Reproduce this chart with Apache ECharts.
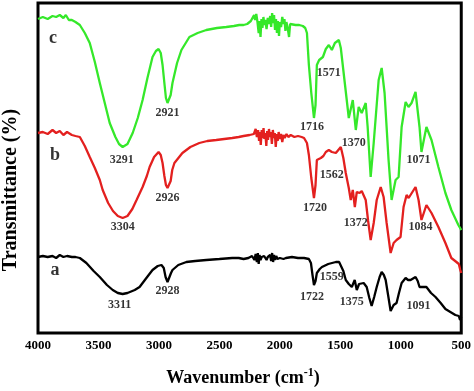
<!DOCTYPE html>
<html>
<head>
<meta charset="utf-8">
<script src="https://cdn.jsdelivr.net/npm/echarts@6/dist/echarts.min.js"></script>
<style>
html,body{margin:0;padding:0;background:#fff;}
#chart{width:474px;height:391px;}
</style>
</head>
<body>
<div id="chart"></div>
<script>
// x tick labels (wavenumber, cm-1)
var xTicks = [4000, 3500, 3000, 2500, 2000, 1500, 1000, 500];

// spectrum c (green): [wavenumber, transmittance (arb. offset units)]
var specC = [[4000,314],[3960,316],[3920,314],[3880,317],[3850,316],[3820,318],[3790,315],[3770,318],[3760,320],[3745,313],[3720,313],[3690,311],[3654,308],[3613,300],[3572,290],[3530,271],[3489,250],[3448,230],[3407,210],[3360,196],[3330,189],[3300,186],[3260,189],[3217,200],[3175,215],[3135,233],[3095,255],[3053,276],[3025,282],[3003,284],[2985,280],[2970,268],[2955,250],[2942,235],[2929,230],[2915,231],[2903,238],[2888,250],[2850,270],[2814,283],[2748,296],[2680,300],[2608,303],[2520,305],[2443,306],[2380,307],[2336,308],
[2300,308],[2270,309],[2240,312],[2225,310],[2213,318],[2205,313],[2195,319],[2185,311],[2175,300],[2168,312],[2160,296],[2152,314],[2144,305],[2136,316],[2128,308],[2120,313],[2110,304],[2100,315],[2090,309],[2080,317],[2072,306],[2064,320],[2056,310],[2048,318],[2040,303],[2032,314],[2024,300],[2016,312],[2007,297],[2000,311],[1990,306],[1980,316],[1970,309],[1962,314],[1954,302],[1946,311],[1935,305],[1924,296],[1915,309],[1900,307],[1870,308],[1840,308],[1810,307],
[1790,305],[1776,300],[1760,268],[1740,240],[1718,215],[1705,228],[1694,268],[1675,273],[1661,272],[1644,276],[1620,284],[1595,288],[1570,283],[1545,290],[1512,293],[1496,285],[1463,250],[1430,215],[1397,233],[1372,203],[1348,226],[1323,220],[1290,230],[1274,206],[1249,156],[1224,190],[1183,253],[1158,265],[1134,240],[1101,173],[1076,133],[1043,153],[1018,156],[993,206],[960,231],[936,226],[911,230],[878,241],[845,206],[829,181],[788,206],[746,193],[689,166],[631,140],[582,123],[524,108],[500,103]];

// spectrum b (red)
var specB = [[4000,200],[3960,201],[3920,199],[3880,203],[3850,200],[3820,202],[3790,198],[3760,201],[3720,198],[3690,197],[3654,196],[3613,187],[3572,176],[3530,165],[3489,153],[3465,143],[3420,130],[3380,122],[3340,117],[3300,115],[3260,117],[3220,124],[3185,133],[3135,146],[3100,157],[3077,166],[3040,176],[3003,181],[2985,178],[2970,170],[2955,157],[2942,148],[2929,145],[2915,146],[2903,152],[2890,163],[2872,170],[2806,180],[2740,186],[2666,190],[2600,192],[2526,193],[2460,194],[2394,195],[2340,196],
[2300,197],[2250,198],[2215,199],[2200,204],[2190,196],[2180,203],[2172,192],[2165,201],[2158,188],[2150,203],[2142,195],[2135,205],[2128,194],[2120,200],[2112,187],[2105,202],[2098,193],[2090,204],[2082,196],[2074,201],[2066,189],[2058,203],[2050,195],[2042,200],[2034,186],[2026,199],[2018,192],[2010,201],[2000,194],[1990,199],[1980,191],[1970,198],[1960,195],[1945,199],[1930,196],[1910,198],[1880,196],[1850,197],[1820,196],[1800,195],
[1776,190],[1760,178],[1740,155],[1718,135],[1705,148],[1694,173],[1661,175],[1640,177],[1620,181],[1595,183],[1570,181],[1537,180],[1496,186],[1475,175],[1455,160],[1430,145],[1414,133],[1397,143],[1380,126],[1364,141],[1340,140],[1323,142],[1307,143],[1290,133],[1270,112],[1249,93],[1224,110],[1199,133],[1166,146],[1142,136],[1117,110],[1084,80],[1059,90],[1035,93],[1002,96],[977,126],[952,138],[935,135],[919,133],[878,146],[853,133],[829,113],[788,128],[746,120],[689,106],[631,90],[582,75],[540,71],[520,69],[508,63],[500,60]];

// spectrum a (black)
var specA = [[4000,76],[3960,77],[3920,76],[3880,77],[3850,75],[3820,78],[3790,76],[3760,77],[3720,76],[3690,76],[3654,75],[3600,70],[3540,62],[3489,56],[3430,48],[3382,43],[3340,40],[3300,39],[3260,40],[3200,43],[3160,46],[3110,54],[3053,63],[3010,67],[2979,68],[2960,65],[2945,56],[2929,51],[2915,53],[2900,60],[2888,63],[2840,68],[2773,71],[2700,72],[2608,73],[2500,74],[2394,75],[2340,75],
[2300,74],[2260,75],[2230,77],[2210,73],[2200,79],[2190,71],[2182,80],[2175,69],[2168,78],[2160,73],[2150,76],[2140,74],[2130,77],[2120,75],[2110,73],[2100,76],[2090,74],[2080,78],[2072,72],[2064,80],[2056,71],[2048,78],[2040,73],[2030,77],[2020,74],[2010,76],[2000,75],[1990,76],[1970,74],[1950,75],[1900,76],[1850,75],[1800,75],
[1784,75],[1760,74],[1743,70],[1730,58],[1718,48],[1705,52],[1694,60],[1670,64],[1652,66],[1600,69],[1537,71],[1510,71],[1496,70],[1475,62],[1455,53],[1430,49],[1405,46],[1381,53],[1364,43],[1345,49],[1331,50],[1307,50],[1282,46],[1260,35],[1241,27],[1220,36],[1199,46],[1175,56],[1158,61],[1140,58],[1125,53],[1105,38],[1084,22],[1059,28],[1035,30],[1015,40],[993,50],[960,55],[940,53],[919,53],[878,56],[860,52],[845,46],[820,46],[788,46],[750,40],[713,36],[670,30],[631,24],[590,21],[549,18],[520,17],[510,13],[500,16]];

// peak annotations: [wavenumber position, y position, text]
var peakLabels = [
  [3308,173,'3291'],[2929,220,'2921'],[1735,206,'1716'],[1595,260,'1571'],[1389,190,'1370'],[853,173,'1071'],
  [3300,106,'3304'],[2929,135,'2926'],[1710,125,'1720'],[1570,158,'1562'],[1372,110,'1372'],[837,106,'1084'],
  [3325,28,'3311'],[2929,42,'2928'],[1735,36,'1722'],[1570,56,'1559'],[1405,31,'1375'],[853,27,'1091']
];
// curve letters
var curveLetters = [[3876,295,'c'],[3860,178,'b'],[3860,63,'a']];

var FONT = '"Liberation Serif", "Times New Roman", serif';

var chart = echarts.init(document.getElementById('chart'), null, {renderer:'canvas'});

function toLabelData(arr){
  return arr.map(function(d){ return {value:[d[0], d[1]], name:d[2]}; });
}

var option = {
  animation: false,
  backgroundColor: '#fff',
  grid: {left: 38, right: 11, top: 3, bottom: 58, show: true, borderColor: '#000', borderWidth: 3, backgroundColor: 'transparent'},
  xAxis: {
    type: 'value', inverse: true, min: 500, max: 4000, interval: 500,
    axisLine: {show: false}, axisTick: {show: false}, splitLine: {show: false},
    axisLabel: {
      margin: 6, color: '#000', fontFamily: FONT, fontWeight: 'bold', fontSize: 13,
      formatter: function(v){ return xTicks.indexOf(v) >= 0 ? String(v) : ''; }
    }
  },
  yAxis: {
    type: 'value', min: 0, max: 330,
    axisLine: {show: false}, axisTick: {show: false}, splitLine: {show: false}, axisLabel: {show: false}
  },
  series: [
    {type:'line', data: specA, showSymbol:false, symbol:'none', lineStyle:{color:'#000000', width:2.3}, z:2},
    {type:'line', data: specB, showSymbol:false, symbol:'none', lineStyle:{color:'#e3201f', width:2.3}, z:3},
    {type:'line', data: specC, showSymbol:false, symbol:'none', lineStyle:{color:'#35e82a', width:2.3}, z:4},
    {type:'scatter', data: toLabelData(peakLabels), symbolSize: 1, itemStyle:{color:'transparent'}, silent:true, z:5,
      label:{show:true, position:'inside', formatter:'{b}', color:'#000', fontFamily: FONT, fontWeight:'bold', fontSize:12}},
    {type:'scatter', data: toLabelData(curveLetters), symbolSize: 1, itemStyle:{color:'transparent'}, silent:true, z:5,
      label:{show:true, position:'inside', formatter:'{b}', color:'#000', fontFamily: FONT, fontWeight:'bold', fontSize:18}}
  ],
  graphic: [
    {type:'text', x: 243, y: 378, z: 10,
      style:{text:'Wavenumber (cm{s|-1})', align:'center', verticalAlign:'middle',
        font: 'bold 18px ' + FONT, fill:'#000',
        rich:{s:{font:'bold 12px ' + FONT, fill:'#000', verticalAlign:'top', padding:[0,0,10,0]}}}},
    {type:'text', x: 11, y: 190, rotation: Math.PI/2, z: 10,
      style:{text:'Transmittance (%)', align:'center', verticalAlign:'middle',
        font: 'bold 20px ' + FONT, fill:'#000'}}
  ]
};
chart.setOption(option);
</script>
</body>
</html>
